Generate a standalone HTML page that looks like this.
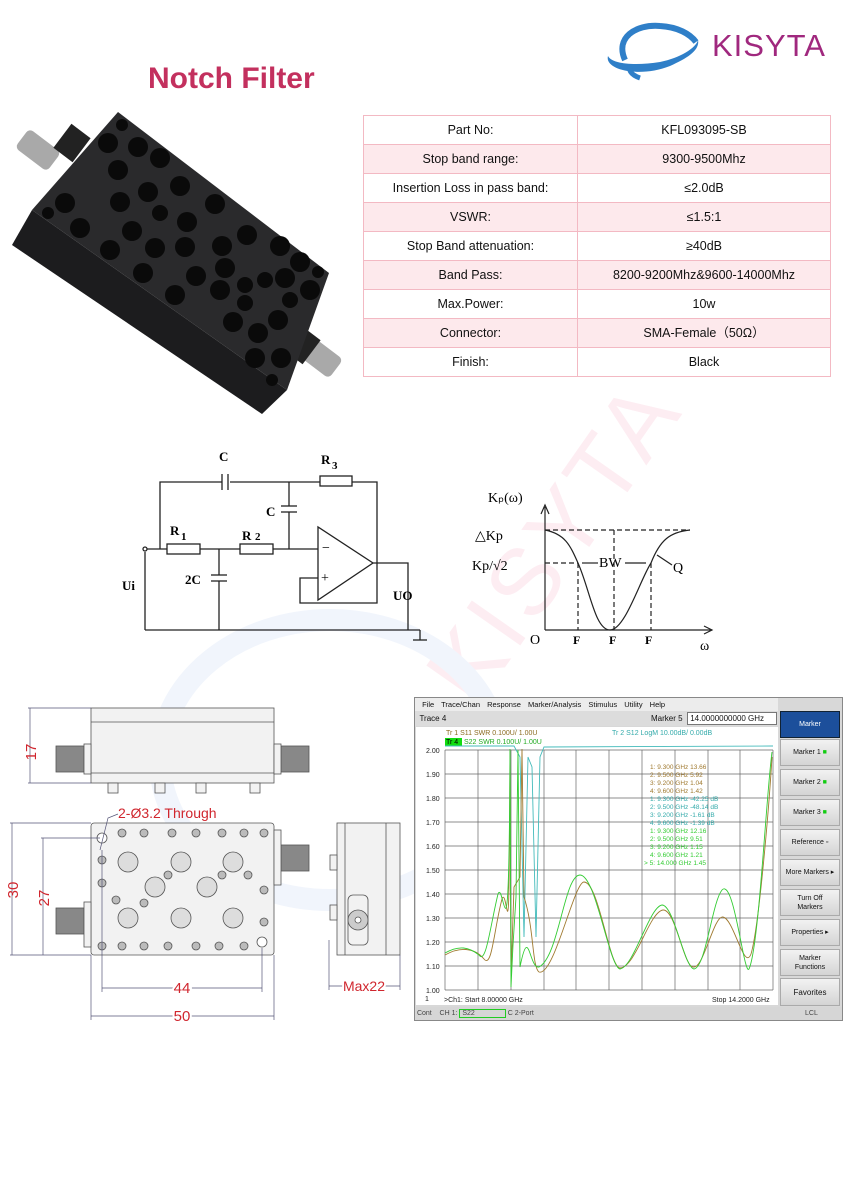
<!DOCTYPE html>
<html><head><meta charset="utf-8">
<style>
html,body{margin:0;padding:0;background:#fff;}
body{width:846px;height:1194px;position:relative;overflow:hidden;font-family:"Liberation Sans",sans-serif;}
.abs{position:absolute;}
table.spec{position:absolute;left:363px;top:115px;width:468px;border-collapse:collapse;border:1.5px solid #e0707f;font-size:12.5px;color:#111;font-family:"Liberation Sans","Noto Sans CJK SC",sans-serif;}
table.spec td{height:28px;line-height:14px;text-align:center;border:1px solid #f3b9c3;padding:0;}
table.spec tr:nth-child(even) td{background:#fde9ec;}
table.spec td:first-child{width:213px;}
.vna{position:absolute;left:414px;top:697px;width:427px;height:322px;background:#d8d8d8;border:1px solid #888;font-size:7.5px;color:#111;}
.btn{position:absolute;left:365px;width:60px;height:27px;background:linear-gradient(#f2f2f2,#d4d4d4);border:1px solid #aaa;box-sizing:border-box;text-align:center;font-size:7px;line-height:9px;display:flex;align-items:center;justify-content:center;}
</style></head><body>

<!-- watermark -->
<div class="abs" style="left:405px;top:660px;font-size:95px;color:#fdedf2;transform:rotate(-55deg);transform-origin:left top;letter-spacing:6px;">KISYTA</div>
<svg class="abs" style="left:0;top:0" width="846" height="1194">
 <ellipse cx="330" cy="760" rx="170" ry="140" fill="none" stroke="#f1f5fc" stroke-width="22"/>
</svg>

<!-- logo -->
<svg class="abs" style="left:600px;top:18px" width="110" height="65">
 <path d="M25 42 C15 20 35 6 60 8 C78 9 90 16 96 24" fill="none" stroke="#2f7fc8" stroke-width="6"/>
 <path d="M8 38 C4 52 40 60 70 48 C88 40 100 32 98 22 C96 30 80 40 60 44 C35 48 12 46 8 38Z" fill="#2f7fc8"/>
 <path d="M30 48 C28 54 34 58 40 60" fill="none" stroke="#2f7fc8" stroke-width="5"/>
</svg>
<div class="abs" style="left:712px;top:28px;font-size:31px;color:#a0287e;letter-spacing:1px;">KISYTA</div>

<div class="abs" style="left:148px;top:62px;font-size:30px;font-weight:bold;color:#c3305e;">Notch Filter</div>

<!-- product photo -->
<svg class="abs" style="left:0;top:100px" width="350" height="330">
 <rect x="18" y="38" width="40" height="24" rx="5" fill="#a9a9a9" transform="rotate(37 38 50)"/>
 <rect x="300" y="245" width="40" height="24" rx="5" fill="#a9a9a9" transform="rotate(37 320 257)"/>
 <rect x="60" y="28" width="24" height="30" fill="#222" transform="rotate(37 72 43)"/>
 <rect x="290" y="230" width="24" height="30" fill="#222" transform="rotate(37 302 245)"/>
 <polygon points="32,110 287,290 262,314 12,145" fill="#1c1c1e"/>
 <polygon points="118,12 329,173 287,290 32,110" fill="#2a2a2c"/>
 <g fill="#0a0a0a">
  <circle cx="122" cy="25" r="6"/><circle cx="108" cy="43" r="10"/><circle cx="138" cy="47" r="10"/><circle cx="160" cy="58" r="10"/>
  <circle cx="118" cy="70" r="10"/><circle cx="148" cy="92" r="10"/><circle cx="180" cy="86" r="10"/>
  <circle cx="120" cy="102" r="10"/><circle cx="215" cy="104" r="10"/><circle cx="160" cy="113" r="8"/><circle cx="187" cy="122" r="10"/>
  <circle cx="65" cy="103" r="10"/><circle cx="48" cy="113" r="6"/><circle cx="80" cy="128" r="10"/><circle cx="132" cy="131" r="10"/>
  <circle cx="247" cy="135" r="10"/><circle cx="110" cy="150" r="10"/><circle cx="155" cy="148" r="10"/><circle cx="185" cy="147" r="10"/>
  <circle cx="222" cy="146" r="10"/><circle cx="280" cy="146" r="10"/><circle cx="300" cy="162" r="10"/><circle cx="318" cy="172" r="6"/>
  <circle cx="143" cy="173" r="10"/><circle cx="196" cy="176" r="10"/><circle cx="225" cy="168" r="10"/><circle cx="245" cy="185" r="8"/>
  <circle cx="265" cy="180" r="8"/><circle cx="285" cy="178" r="10"/><circle cx="310" cy="190" r="10"/><circle cx="175" cy="195" r="10"/>
  <circle cx="220" cy="190" r="10"/><circle cx="245" cy="203" r="8"/><circle cx="290" cy="200" r="8"/><circle cx="233" cy="222" r="10"/>
  <circle cx="278" cy="220" r="10"/><circle cx="258" cy="233" r="10"/><circle cx="255" cy="258" r="10"/><circle cx="281" cy="258" r="10"/><circle cx="272" cy="280" r="6"/>
 </g>
</svg>

<table class="spec">
<tr><td>Part No:</td><td>KFL093095-SB</td></tr>
<tr><td>Stop band range:</td><td>9300-9500Mhz</td></tr>
<tr><td>Insertion Loss in pass band:</td><td>≤2.0dB</td></tr>
<tr><td>VSWR:</td><td>≤1.5:1</td></tr>
<tr><td>Stop Band attenuation:</td><td>≥40dB</td></tr>
<tr><td>Band Pass:</td><td>8200-9200Mhz&amp;9600-14000Mhz</td></tr>
<tr><td>Max.Power:</td><td>10w</td></tr>
<tr><td>Connector:</td><td>SMA-Female（50Ω）</td></tr>
<tr><td>Finish:</td><td>Black</td></tr>
</table>

<!-- circuit + graph -->
<svg class="abs" style="left:0;top:0" width="846" height="700" font-family="Liberation Serif,serif" font-weight="bold" font-size="13">
 <g stroke="#222" stroke-width="1.3" fill="none">
  <polyline points="160,549 160,482 222,482"/><line x1="230" y1="482" x2="320" y2="482"/>
  <line x1="222" y1="474" x2="222" y2="490"/><line x1="228" y1="474" x2="228" y2="490"/>
  <rect x="320" y="476" width="32" height="10"/><polyline points="352,482 377,482 377,563"/>
  <line x1="289" y1="482" x2="289" y2="506"/><line x1="281" y1="506" x2="297" y2="506"/><line x1="281" y1="512" x2="297" y2="512"/><line x1="289" y1="512" x2="289" y2="549"/>
  <line x1="147" y1="549" x2="167" y2="549"/><rect x="167" y="544" width="33" height="10"/>
  <line x1="200" y1="549" x2="240" y2="549"/><rect x="240" y="544" width="33" height="10"/><line x1="273" y1="549" x2="318" y2="549"/>
  <line x1="219" y1="549" x2="219" y2="575"/><line x1="211" y1="575" x2="227" y2="575"/><line x1="211" y1="581" x2="227" y2="581"/><line x1="219" y1="581" x2="219" y2="630"/>
  <polygon points="318,527 318,600 373,563"/>
  <polyline points="318,578 300,578 300,603 377,603 377,563"/>
  <polyline points="373,563 408,563 408,630"/>
  <line x1="145" y1="552" x2="145" y2="630"/><line x1="145" y1="630" x2="420" y2="630"/>
  <line x1="420" y1="630" x2="420" y2="640"/><line x1="413" y1="640" x2="427" y2="640"/>
  <circle cx="145" cy="549" r="2"/>
 </g>
 <text x="219" y="461">C</text><text x="321" y="464">R</text><text x="332" y="469" font-size="11">3</text>
 <text x="266" y="516">C</text><text x="170" y="535">R</text><text x="181" y="540" font-size="11">1</text>
 <text x="242" y="540">R</text><text x="255" y="540" font-size="11">2</text>
 <text x="185" y="584">2C</text><text x="122" y="590">Ui</text><text x="393" y="600">UO</text>
 <text x="322" y="552" font-size="14" font-weight="normal">−</text><text x="321" y="582" font-size="14" font-weight="normal">+</text>
 <g stroke="#222" stroke-width="1.2" fill="none">
  <line x1="545" y1="630" x2="545" y2="507"/><polyline points="541,514 545,505 549,514"/>
  <line x1="545" y1="630" x2="712" y2="630"/><polyline points="704,626 712,630 704,634"/>
  <g stroke-dasharray="5,3"><line x1="545" y1="530" x2="690" y2="530"/><line x1="545" y1="563" x2="578" y2="563"/>
  <line x1="578" y1="563" x2="578" y2="630"/><line x1="614" y1="530" x2="614" y2="630"/><line x1="651" y1="563" x2="651" y2="630"/></g>
  <path d="M545 530 C565 534 570 545 578 563 C590 590 595 630 610 630 C625 630 640 580 651 563 C660 540 670 532 690 530"/>
  <line x1="582" y1="563" x2="598" y2="563"/><line x1="625" y1="563" x2="646" y2="563"/>
  <line x1="657" y1="555" x2="672" y2="565"/>
 </g>
 <g font-weight="normal" font-size="14">
 <text x="488" y="502">Kₚ(ω)</text><text x="475" y="540">△Kp</text><text x="472" y="570">Kp/√2</text>
 <text x="599" y="567">BW</text><text x="673" y="572">Q</text><text x="530" y="644">O</text><text x="700" y="650">ω</text></g>
 <text x="573" y="644" font-size="12">F</text><text x="609" y="644" font-size="12">F</text><text x="645" y="644" font-size="12">F</text>
</svg>

<!-- mechanical drawing -->
<svg class="abs" style="left:0;top:690px" width="410" height="345" font-family="Liberation Sans,sans-serif">
 <g stroke="#555" stroke-width="0.8" fill="#f2f2f2">
  <rect x="91" y="18" width="183" height="75"/><line x1="91" y1="32" x2="274" y2="32"/><line x1="91" y1="83" x2="274" y2="83"/>
  <rect x="56" y="56" width="28" height="26" fill="#888"/><rect x="84" y="54" width="7" height="30"/>
  <rect x="281" y="56" width="28" height="26" fill="#888"/><rect x="274" y="54" width="7" height="30"/>
  <rect x="108" y="93" width="10" height="10"/><rect x="155" y="93" width="10" height="10"/><rect x="196" y="93" width="10" height="10"/><rect x="250" y="93" width="10" height="10"/>
  <rect x="91" y="133" width="183" height="132" rx="3"/>
  <rect x="56" y="218" width="28" height="26" fill="#888"/><rect x="84" y="212" width="7" height="45"/>
  <rect x="281" y="155" width="28" height="26" fill="#888"/><rect x="274" y="140" width="7" height="55"/>
  <circle cx="102" cy="148" r="5" fill="#fff"/><circle cx="262" cy="252" r="5" fill="#fff"/>
  <g fill="#ddd">
   <circle cx="128" cy="172" r="10"/><circle cx="181" cy="172" r="10"/><circle cx="233" cy="172" r="10"/>
   <circle cx="155" cy="197" r="10"/><circle cx="207" cy="197" r="10"/>
   <circle cx="128" cy="228" r="10"/><circle cx="181" cy="228" r="10"/><circle cx="233" cy="228" r="10"/>
  </g>
  <g fill="#bbb">
   <circle cx="122" cy="143" r="4"/><circle cx="144" cy="143" r="4"/><circle cx="172" cy="143" r="4"/><circle cx="196" cy="143" r="4"/><circle cx="222" cy="143" r="4"/><circle cx="244" cy="143" r="4"/><circle cx="264" cy="143" r="4"/>
   <circle cx="102" cy="170" r="4"/><circle cx="102" cy="193" r="4"/><circle cx="102" cy="256" r="4"/>
   <circle cx="122" cy="256" r="4"/><circle cx="144" cy="256" r="4"/><circle cx="168" cy="256" r="4"/><circle cx="196" cy="256" r="4"/><circle cx="219" cy="256" r="4"/><circle cx="244" cy="256" r="4"/>
   <circle cx="264" cy="200" r="4"/><circle cx="264" cy="232" r="4"/><circle cx="116" cy="210" r="4"/><circle cx="144" cy="213" r="4"/><circle cx="168" cy="185" r="4"/><circle cx="222" cy="185" r="4"/><circle cx="248" cy="185" r="4"/>
  </g>
  <rect x="337" y="133" width="63" height="132"/><line x1="345" y1="133" x2="345" y2="265"/><line x1="386" y1="133" x2="386" y2="265"/>
  <rect x="348" y="205" width="20" height="50" rx="5"/><circle cx="358" cy="230" r="10" fill="#ccc"/><circle cx="358" cy="230" r="3" fill="#fff"/>
  <rect x="330" y="165" width="7" height="15"/><rect x="330" y="215" width="7" height="15"/>
 </g>
 <g stroke="#557" stroke-width="0.7" fill="none">
  <line x1="30" y1="18" x2="30" y2="93"/><line x1="28" y1="18" x2="91" y2="18"/><line x1="28" y1="93" x2="91" y2="93"/>
  <line x1="12" y1="133" x2="12" y2="265"/><line x1="10" y1="133" x2="91" y2="133"/><line x1="10" y1="265" x2="91" y2="265"/>
  <line x1="43" y1="148" x2="43" y2="265"/><line x1="41" y1="148" x2="100" y2="148"/>
  <line x1="102" y1="160" x2="102" y2="302"/><line x1="262" y1="258" x2="262" y2="302"/><line x1="102" y1="298" x2="262" y2="298"/>
  <line x1="91" y1="265" x2="91" y2="330"/><line x1="274" y1="265" x2="274" y2="330"/><line x1="91" y1="326" x2="274" y2="326"/>
  <line x1="329" y1="250" x2="329" y2="300"/><line x1="400" y1="265" x2="400" y2="300"/><line x1="329" y1="296" x2="400" y2="296"/>
  <polyline points="100,160 108,128 118,124"/>
 </g>
 <g fill="#d0262e" font-size="15">
  <text x="36" y="62" transform="rotate(-90 36 62)" text-anchor="middle">17</text>
  <text x="18" y="200" transform="rotate(-90 18 200)" text-anchor="middle">30</text>
  <text x="49" y="208" transform="rotate(-90 49 208)" text-anchor="middle">27</text>
  <text x="182" y="303" text-anchor="middle" style="paint-order:stroke" stroke="#fff" stroke-width="4">44</text>
  <text x="182" y="331" text-anchor="middle" style="paint-order:stroke" stroke="#fff" stroke-width="4">50</text>
  <text x="364" y="301" text-anchor="middle" style="paint-order:stroke" stroke="#fff" stroke-width="4" font-size="14">Max22</text>
  <text x="118" y="128" font-size="14">2-Ø3.2 Through</text>
 </g>
</svg>

<!-- VNA -->
<div class="vna">
 <div class="abs" style="left:0;top:0;width:363px;height:13px;background:#ececec;font-size:7.5px;line-height:13px;word-spacing:5px;">&nbsp;File Trace/Chan Response Marker/Analysis Stimulus Utility Help</div>
 <div class="abs" style="left:0;top:13px;width:363px;height:15px;background:#dcdcdc;font-size:8px;line-height:15px;">&nbsp;&nbsp;Trace 4</div>
 <div class="abs" style="left:236px;top:16px;font-size:8px;">Marker 5</div>
 <div class="abs" style="left:272px;top:14px;width:88px;height:11px;background:#fff;border:1px solid #777;font-size:8px;line-height:11px;">&nbsp;14.0000000000 GHz</div>
 <div class="abs" style="left:1px;top:29px;width:362px;height:278px;background:#fff;"></div>
 <div class="btn" style="top:13px;background:#1c4f9b;color:#fff;border-color:#123;">Marker</div>
 <div class="btn" style="top:41px;">Marker 1 <span style="color:#1c1;">&nbsp;■</span></div>
 <div class="btn" style="top:71px;">Marker 2 <span style="color:#1c1;">&nbsp;■</span></div>
 <div class="btn" style="top:101px;">Marker 3 <span style="color:#1c1;">&nbsp;■</span></div>
 <div class="btn" style="top:131px;">Reference ▫</div>
 <div class="btn" style="top:161px;">More Markers ▸</div>
 <div class="btn" style="top:191px;">Turn Off<br>Markers</div>
 <div class="btn" style="top:221px;">Properties ▸</div>
 <div class="btn" style="top:251px;">Marker<br>Functions</div>
 <div class="btn" style="top:280px;height:28px;font-size:8px;">Favorites</div>
 <div class="abs" style="left:0;top:309px;width:427px;height:13px;background:#d6d6d6;font-size:7px;line-height:13px;color:#444;">&nbsp;Cont&nbsp;&nbsp;&nbsp;&nbsp;CH 1: <span style="border:1px solid #2c2;padding:0 30px 0 2px;">S22</span> C 2-Port<span style="position:absolute;left:390px;">LCL</span></div>
</div>
<svg class="abs" style="left:414px;top:697px" width="364" height="310" font-family="Liberation Sans,sans-serif" font-size="7">
 <g stroke="#666" stroke-width="0.7">
  <line x1="31" y1="53" x2="359" y2="53"/><line x1="31" y1="77" x2="359" y2="77"/><line x1="31" y1="101" x2="359" y2="101"/><line x1="31" y1="125" x2="359" y2="125"/><line x1="31" y1="149" x2="359" y2="149"/><line x1="31" y1="173" x2="359" y2="173"/><line x1="31" y1="197" x2="359" y2="197"/><line x1="31" y1="221" x2="359" y2="221"/><line x1="31" y1="245" x2="359" y2="245"/><line x1="31" y1="269" x2="359" y2="269"/><line x1="31" y1="293" x2="359" y2="293"/>
  <line x1="31" y1="53" x2="31" y2="293"/><line x1="64" y1="53" x2="64" y2="293"/><line x1="97" y1="53" x2="97" y2="293"/><line x1="130" y1="53" x2="130" y2="293"/><line x1="162" y1="53" x2="162" y2="293"/><line x1="195" y1="53" x2="195" y2="293"/><line x1="228" y1="53" x2="228" y2="293"/><line x1="261" y1="53" x2="261" y2="293"/><line x1="294" y1="53" x2="294" y2="293"/><line x1="326" y1="53" x2="326" y2="293"/><line x1="359" y1="53" x2="359" y2="293"/>
 </g>
 <g fill="#222"><text x="12" y="56">2.00</text><text x="12" y="80">1.90</text><text x="12" y="104">1.80</text><text x="12" y="128">1.70</text><text x="12" y="152">1.60</text><text x="12" y="176">1.50</text><text x="12" y="200">1.40</text><text x="12" y="224">1.30</text><text x="12" y="248">1.20</text><text x="12" y="272">1.10</text><text x="12" y="296">1.00</text>
 <text x="30" y="305">&gt;Ch1: Start  8.00000 GHz</text><text x="298" y="305">Stop  14.2000 GHz</text><text x="11" y="304">1</text></g>
 <text x="32" y="38" fill="#8b6a20">Tr  1  S11 SWR 0.100U/  1.00U</text>
 <rect x="31" y="41" width="17" height="8" fill="#1d1"/><text x="32" y="47">Tr  4</text>
 <text x="50" y="47" fill="#2a2">S22 SWR 0.100U/  1.00U</text>
 <text x="198" y="38" fill="#3aa">Tr  2  S12 LogM 10.00dB/  0.00dB</text>
 <path d="M31 49 L100 49 L106 60 L110 240 L114 60 L118 70 L122 240 L126 60 L130 50 L359 49" fill="none" stroke="#4bb" stroke-width="0.9"/>
 <path d="M31 258 C45 250 60 250 70 262 C78 272 80 232 88 202 C94 185 95 300 96 54 L97 280 L100 190 L106 180 L108 52 L110 200 C120 230 118 270 125 275 C140 280 160 185 170 185 C185 185 195 270 206 271 C222 270 235 215 249 213 C262 212 270 273 280 270 C290 270 300 218 309 220 C320 222 330 275 337 257 C345 230 355 110 358 60" fill="none" stroke="#a07a30" stroke-width="0.9"/>
 <path d="M31 256 C45 248 55 250 65 258 C72 268 76 230 84 197 C90 180 95 300 96 52 L97 290 L99 248 L102 200 L104 53 L106 270 C115 225 115 272 125 270 C145 260 150 178 166 178 C182 178 195 270 206 272 C220 270 235 210 248 208 C260 208 270 270 280 272 C292 270 298 205 308 193 C320 180 330 280 335 272 C345 250 352 100 358 55" fill="none" stroke="#3c3" stroke-width="0.9"/>
 <g font-size="6.5">
  <text x="236" y="72" fill="#a07a30">1:      9.300 GHz          13.66</text>
  <text x="236" y="80" fill="#a07a30">2:      9.500 GHz            5.92</text>
  <text x="236" y="88" fill="#a07a30">3:      9.200 GHz            1.04</text>
  <text x="236" y="96" fill="#a07a30">4:      9.600 GHz            1.42</text>
  <text x="236" y="104" fill="#3aa">1:      9.300 GHz      -42.25 dB</text>
  <text x="236" y="112" fill="#3aa">2:      9.500 GHz      -48.14 dB</text>
  <text x="236" y="120" fill="#3aa">3:      9.200 GHz        -1.61 dB</text>
  <text x="236" y="128" fill="#3aa">4:      9.600 GHz        -1.39 dB</text>
  <text x="236" y="136" fill="#3c3">1:      9.300 GHz          12.16</text>
  <text x="236" y="144" fill="#3c3">2:      9.500 GHz            9.51</text>
  <text x="236" y="152" fill="#3c3">3:      9.200 GHz            1.15</text>
  <text x="236" y="160" fill="#3c3">4:      9.600 GHz            1.21</text>
  <text x="230" y="168" fill="#3c3">&gt; 5:   14.000 GHz            1.45</text>
 </g>
</svg>
</body></html>
